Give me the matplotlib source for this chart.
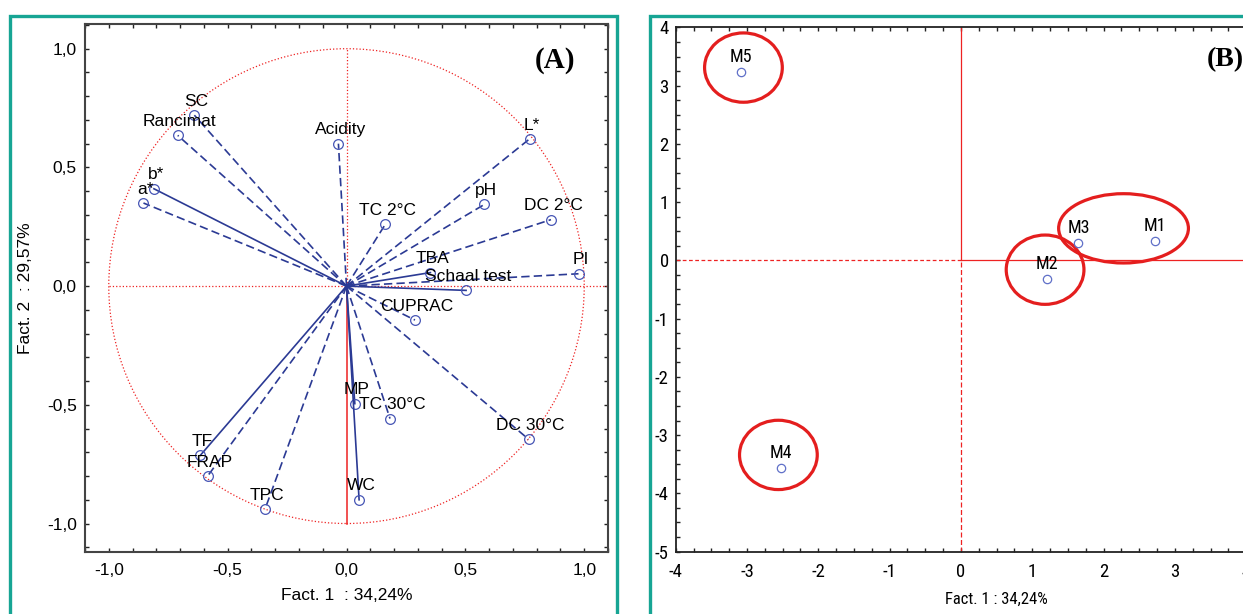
import numpy as np
import matplotlib
matplotlib.use("Agg")
import matplotlib.pyplot as plt
from matplotlib import font_manager
from matplotlib.patches import Circle, Ellipse, Rectangle
from matplotlib.ticker import MultipleLocator

plt.rcParams['font.family'] = ['Liberation Sans', 'DejaVu Sans']
plt.rcParams['axes.unicode_minus'] = False

# loadings (panel A)
var_names = ['SC', 'Rancimat', 'Acidity', 'L*', 'b*', 'a*', 'pH', 'DC 2°C', 'TC 2°C',
             'TBA', 'PI', 'Schaal test', 'CUPRAC', 'MP', 'TC 30°C', 'DC 30°C',
             'TF', 'FRAP', 'TPC', 'WC']
fact1 = [-0.64, -0.71, -0.034, 0.77, -0.81, -0.854, 0.58, 0.86, 0.163,
         0.353, 0.976, 0.503, 0.288, 0.035, 0.183, 0.766,
         -0.615, -0.584, -0.343, 0.053]
fact2 = [0.72, 0.635, 0.60, 0.62, 0.41, 0.35, 0.344, 0.28, 0.26,
         0.057, 0.052, -0.018, -0.143, -0.495, -0.558, -0.645,
         -0.713, -0.80, -0.94, -0.90]
line_kind = ['--', '--', '--', '--', '-', '--', '--', '--', '--',
             '-', '--', '-', '--', '-', '--', '--',
             '-', '--', '--', '-']

# scores (panel B)
samples = ['M1', 'M2', 'M3', 'M4', 'M5']
score1 = [2.715, 1.21, 1.647, -2.52, -3.085]
score2 = [0.34, -0.32, 0.30, -3.56, 3.24]

# highlighted groups: centre x, centre y, width, height
groups_x = [-3.05, -2.56, 1.18, 2.28]
groups_y = [3.31, -3.34, -0.16, 0.55]
groups_w = [1.09, 1.09, 1.09, 1.82]
groups_h = [1.19, 1.19, 1.19, 1.19]

# condensed font for panel B if one is installed
installed = {f.name for f in font_manager.fontManager.ttflist}
narrow = None
for cand in ['Liberation Sans Narrow', 'Arial Narrow', 'DejaVu Sans Condensed',
             'Roboto Condensed', 'Open Sans Condensed', 'Noto Sans Condensed']:
    if cand in installed:
        narrow = cand
        break
if narrow is None:
    narrow = 'Liberation Sans'
    fs_b = 11
else:
    fs_b = 12.5

W, H = 1243, 614
fig = plt.figure(figsize=(W / 100, H / 100), dpi=100)

teal = '#17a594'
blue = '#2b3a94'
red = '#ee2222'
spine_col = '#444444'

# panel frames
fig.patches.append(Rectangle((10 / W, -0.05), 607 / W, 1.05 - 16 / H, transform=fig.transFigure,
                             fill=False, ec=teal, lw=2.4))
fig.patches.append(Rectangle((649.5 / W, -0.05), 0.6, 1.05 - 15.6 / H, transform=fig.transFigure,
                             fill=False, ec=teal, lw=2.4))

# ---------- panel A ----------
ax = fig.add_axes([85 / W, 62 / H, 523 / W, 527.5 / H])
ax.set_xlim(-1.1, 1.1)
ax.set_ylim(-1.12, 1.102)

ax.add_patch(Circle((0, 0), 1, fill=False, ls=':', color=red, lw=0.9))
ax.plot([-1, 1.1], [0, 0], ls=':', color=red, lw=0.9)
ax.plot([0, 0], [0, 1], ls=':', color=red, lw=0.9)
ax.plot([0, 0], [0, -1], ls='-', color=red, lw=1.1)

for name, x, y, ls in zip(var_names, fact1, fact2, line_kind):
    if ls == '--':
        ax.plot([0, x], [0, y], ls='--', color=blue, lw=1.2, dashes=(5, 2.5))
    else:
        ax.plot([0, x], [0, y], ls='-', color=blue, lw=1.2)
    ax.plot(x, y, 'o', mfc='none', mec='#4655b5', ms=7, mew=0.9)
    ax.annotate(name, (x, y), xytext=(1.5, 10), textcoords='offset points',
                ha='center', va='center', fontsize=12.5)

ax.set_xticks([-1, -0.5, 0, 0.5, 1])
ax.set_xticklabels(['-1,0', '-0,5', '0,0', '0,5', '1,0'])
ax.set_yticks([-1, -0.5, 0, 0.5, 1])
ax.set_yticklabels(['-1,0', '-0,5', '0,0', '0,5', '1,0'])
ax.xaxis.set_minor_locator(MultipleLocator(0.1))
ax.yaxis.set_minor_locator(MultipleLocator(0.1))
ax.tick_params(which='both', direction='in', top=True, right=True, length=3, width=1, color='#222222',
               labelsize=12.5)
ax.tick_params(axis='x', pad=8)
ax.tick_params(axis='y', pad=6)
for s in ax.spines.values():
    s.set_color(spine_col)
    s.set_linewidth(1.5)
ax.set_xlabel('Fact. 1  : 34,24%', fontsize=12.5, labelpad=7)
ax.set_ylabel('Fact. 2  : 29,57%', fontsize=12.5, labelpad=10)
ax.text(0.899, 0.931, '(A)', transform=ax.transAxes, ha='center', va='center',
        fontsize=21, fontweight='bold', family='Liberation Serif')

# ---------- panel B ----------
bx = fig.add_axes([675.7 / W, 62.4 / H, 641.8 / W, 524.2 / H])
bx.set_xlim(-4, 5)
bx.set_ylim(-5, 4)

bx.plot([0, 0], [0, 4], ls='-', color=red, lw=0.9)
bx.plot([0, 0], [-5, 0], ls='--', color=red, lw=0.9, dashes=(4, 2))
bx.plot([0, 5], [0, 0], ls='-', color=red, lw=0.9)
bx.plot([-4, 0], [0, 0], ls='--', color=red, lw=0.9, dashes=(3, 2))

bx.plot(score1, score2, 'o', mfc='none', mec='#6070c8', ms=6, mew=0.9, ls='none')
for name, x, y in zip(samples, score1, score2):
    bx.annotate(name, (x, y), xytext=(0, 10.5), textcoords='offset points',
                ha='center', va='center', fontsize=fs_b + 0.5, family=narrow)

for cx, cy, w, h in zip(groups_x, groups_y, groups_w, groups_h):
    bx.add_patch(Ellipse((cx, cy), w, h, fill=False, ec='#e41e1e', lw=2.3))

bx.set_xticks(range(-4, 6))
bx.set_yticks(range(-5, 5))
bx.xaxis.set_minor_locator(MultipleLocator(0.25))
bx.yaxis.set_minor_locator(MultipleLocator(0.25))
bx.tick_params(which='both', direction='in', top=True, right=True, length=3, width=1, color='#222222',
               labelsize=fs_b + 1)
bx.tick_params(axis='x', pad=8)
bx.tick_params(axis='y', pad=5)
for lab in bx.get_xticklabels() + bx.get_yticklabels():
    lab.set_family(narrow)
for s in bx.spines.values():
    s.set_color('#222222')
    s.set_linewidth(1.3)
bx.set_xlabel('Fact. 1 : 34,24%', fontsize=fs_b - 0.5, labelpad=8, family=narrow)
fig.text(1225 / W, 1 - 60 / H, '(B)', ha='center', va='center',
         fontsize=20, fontweight='bold', family='Liberation Serif')

fig.savefig('out.png', dpi=100)
